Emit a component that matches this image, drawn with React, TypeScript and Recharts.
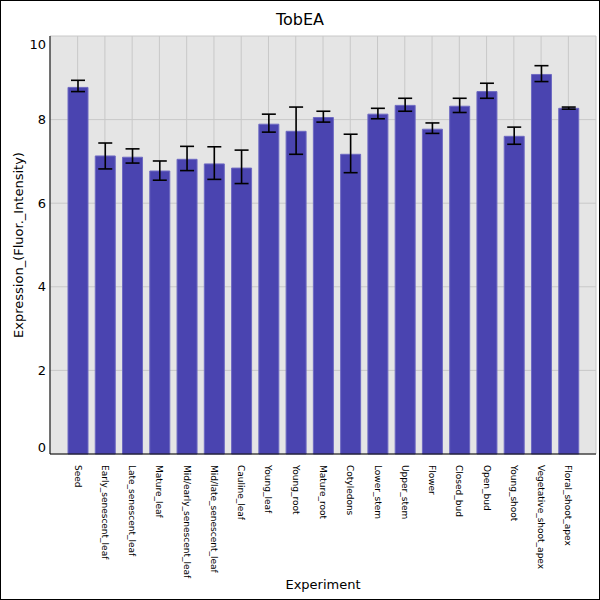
import React from "react";
import {
    BarChart,
    Bar,
    XAxis,
    YAxis,
    CartesianGrid,
    ErrorBar,
} from "recharts";

const experiments = [
    "Seed",
    "Early_senescent_leaf",
    "Late_senescent_leaf",
    "Mature_leaf",
    "Mid/early_senescent_leaf",
    "Mid/late_senescent_leaf",
    "Cauline_leaf",
    "Young_leaf",
    "Young_root",
    "Mature_root",
    "Cotyledons",
    "Lower_stem",
    "Upper_stem",
    "Flower",
    "Closed_bud",
    "Open_bud",
    "Young_shoot",
    "Vegetative_shoot_apex",
    "Floral_shoot_apex",
];

const means = [8.77, 7.13, 7.1, 6.77, 7.05, 6.94, 6.84, 7.89, 7.72, 8.05, 7.17, 8.13, 8.34, 7.77, 8.32, 8.67, 7.6, 9.08, 8.27];
const lowerBounds = [8.67, 6.82, 6.96, 6.55, 6.78, 6.57, 6.47, 7.7, 7.17, 7.94, 6.73, 8.02, 8.2, 7.67, 8.17, 8.51, 7.41, 8.91, 8.25];
const upperBounds = [8.94, 7.44, 7.3, 7.01, 7.36, 7.35, 7.27, 8.13, 8.3, 8.2, 7.65, 8.27, 8.51, 7.92, 8.51, 8.87, 7.82, 9.29, 8.3];

const yTicks = [0, 2, 4, 6, 8, 10];

const data = experiments.map((name, i) => ({
    name,
    value: means[i],
    err: [means[i] - lowerBounds[i], upperBounds[i] - means[i]],
}));

const FONT = "'DejaVu Sans', sans-serif";

function XTick(props: any) {
    const { x, y, payload } = props;
    return (
        <text
            transform={`translate(${x},${y + 3}) rotate(90)`}
            textAnchor="start"
            dominantBaseline="central"
            fontSize={9}
            fontFamily={FONT}
            fill="#000"
        >
            {payload.value}
        </text>
    );
}

function YTick(props: any) {
    const { y, payload } = props;
    // edge labels are pulled inside the plot like the original
    let dy = 0;
    if (payload.value === 10) dy = 8;
    if (payload.value === 0) dy = -7;
    return (
        <text
            x={46}
            y={y + dy}
            textAnchor="end"
            dominantBaseline="central"
            fontSize={13}
            fontFamily={FONT}
            fill="#000"
        >
            {payload.value}
        </text>
    );
}

export default function App() {
    return (
        <div
            style={{
                position: "fixed",
                left: 0,
                top: 0,
                width: 600,
                height: 600,
                background: "#fff",
                fontFamily: FONT,
            }}
        >
            <BarChart
                width={600}
                height={600}
                data={data}
                margin={{ top: 36, right: 4, bottom: 0, left: 0 }}
            >
                <CartesianGrid fill="#e5e5e5" stroke="#c8c8c8" strokeWidth={1} />
                <XAxis
                    dataKey="name"
                    type="category"
                    interval={0}
                    height={146}
                    padding={{ left: 14, right: 14 }}
                    axisLine={{ stroke: "#000" }}
                    tickLine={false}
                    tick={<XTick />}
                />
                <YAxis
                    domain={[0, 10]}
                    ticks={yTicks}
                    width={50}
                    axisLine={{ stroke: "#000" }}
                    tickLine={false}
                    tick={<YTick />}
                />
                <Bar
                    dataKey="value"
                    fill="#4a44b0"
                    stroke="#6e6ac2"
                    strokeWidth={1}
                    barSize={20}
                    isAnimationActive={false}
                >
                    <ErrorBar
                        dataKey="err"
                        width={7}
                        stroke="#000"
                        strokeWidth={1.6}
                        direction="y"
                        isAnimationActive={false}
                    />
                </Bar>
            </BarChart>
            <div
                style={{
                    position: "absolute",
                    left: 0,
                    top: 10,
                    width: 600,
                    textAlign: "center",
                    fontSize: 16,
                    lineHeight: "20px",
                }}
            >
                TobEA
            </div>
            <div
                style={{
                    position: "absolute",
                    left: 18,
                    top: 245,
                    transform: "translate(-50%, -50%) rotate(-90deg)",
                    whiteSpace: "nowrap",
                    fontSize: 13,
                }}
            >
                Expression_(Fluor._Intensity)
            </div>
            <div
                style={{
                    position: "absolute",
                    left: 323,
                    top: 584,
                    transform: "translate(-50%, -50%)",
                    whiteSpace: "nowrap",
                    fontSize: 13,
                }}
            >
                Experiment
            </div>
            <div
                style={{
                    position: "absolute",
                    left: 0,
                    top: 0,
                    width: 600,
                    height: 600,
                    boxSizing: "border-box",
                    border: "1px solid #000",
                    pointerEvents: "none",
                }}
            />
        </div>
    );
}
